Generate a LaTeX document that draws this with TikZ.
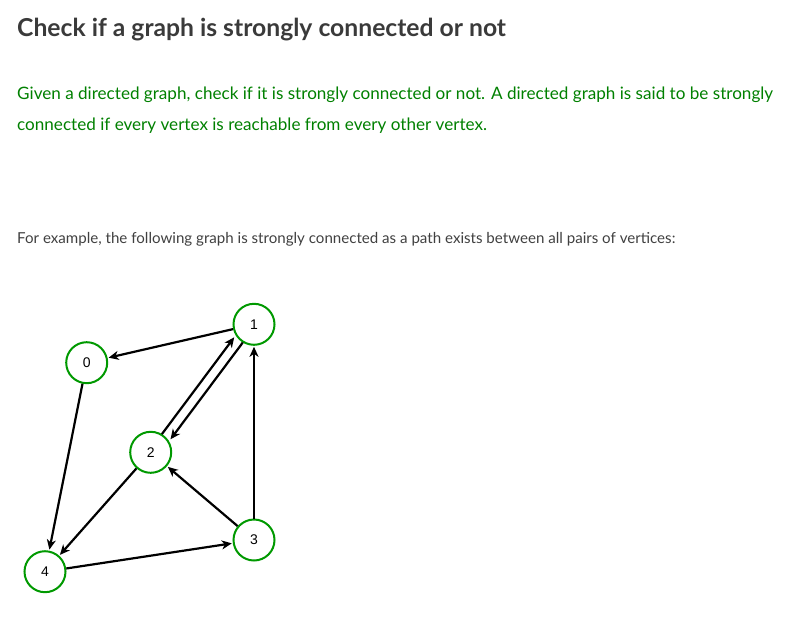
\documentclass[tikz,border=0pt]{standalone}
\usepackage{fontspec}
\setmainfont{Lato}
\newfontfamily\labelfont{Liberation Sans}
\usepackage{tikz}
\usetikzlibrary{arrows.meta}
\definecolor{gfgGreen}{RGB}{0,128,0}
\definecolor{nodeGreen}{RGB}{0,153,0}
\definecolor{titleGray}{RGB}{58,58,58}
\definecolor{textGray}{RGB}{64,64,64}
\tikzstyle{edge}=[-{Stealth[length=10pt,width=9pt,inset=3pt]}, line width=2.2pt,
                  shorten >=1pt]
\tikzstyle{vertex}=[circle, fill=white, draw=nodeGreen, line width=2pt,
                    minimum size=41pt, inner sep=0pt,
                    font=\labelfont\fontsize{14}{14}\selectfont]
\tikzstyle{line}=[anchor=base west, inner sep=0pt]

\begin{document}
\begin{tikzpicture}[x=1pt, y=-1pt]
     \useasboundingbox (0,0) rectangle (786,623);
     % heading and text
     \node (title) at (17,36.7) [line, text=titleGray,
       font=\bfseries\fontsize{24.7}{24.7}\selectfont]
       {Check if a graph is strongly connected or not};
     \node (intro1) at (17,99.3) [line, text=gfgGreen,
       font=\fontsize{17.1}{17.1}\selectfont]
       {Given a directed graph, check if it is strongly connected or not. A directed graph is said to be strongly};
     \node (intro2) at (17,130) [line, text=gfgGreen,
       font=\fontsize{17.1}{17.1}\selectfont]
       {connected if every vertex is reachable from every other vertex.};
     \node (example) at (17,243.3) [line, text=textGray,
       font=\fontsize{15.1}{15.1}\selectfont]
       {For example, the following graph is strongly connected as a path exists between all pairs of vertices:};

     % the graph
     \node (v0) at (86.7,362.7) [vertex]{0};
     \node (v1) at (254,324.3)  [vertex]{1};
     \node (v2) at (150.7,452.3)[vertex]{2};
     \node (v3) at (254,540)    [vertex]{3};
     \node (v4) at (45,571.7)   [vertex]{4};

     \foreach \u/\v in {v1/v0,v0/v4,v2/v4,v3/v2,v3/v1,v4/v3}
       \draw [edge] (\u) to (\v);
     \draw [edge] ([shift={(-4,-3)}]v2.north east) to ([shift={(-4,-3)}]v1.south west);
     \draw [edge] ([shift={(4,3)}]v1.south west) to ([shift={(4,3)}]v2.north east);
\end{tikzpicture}
\end{document}
